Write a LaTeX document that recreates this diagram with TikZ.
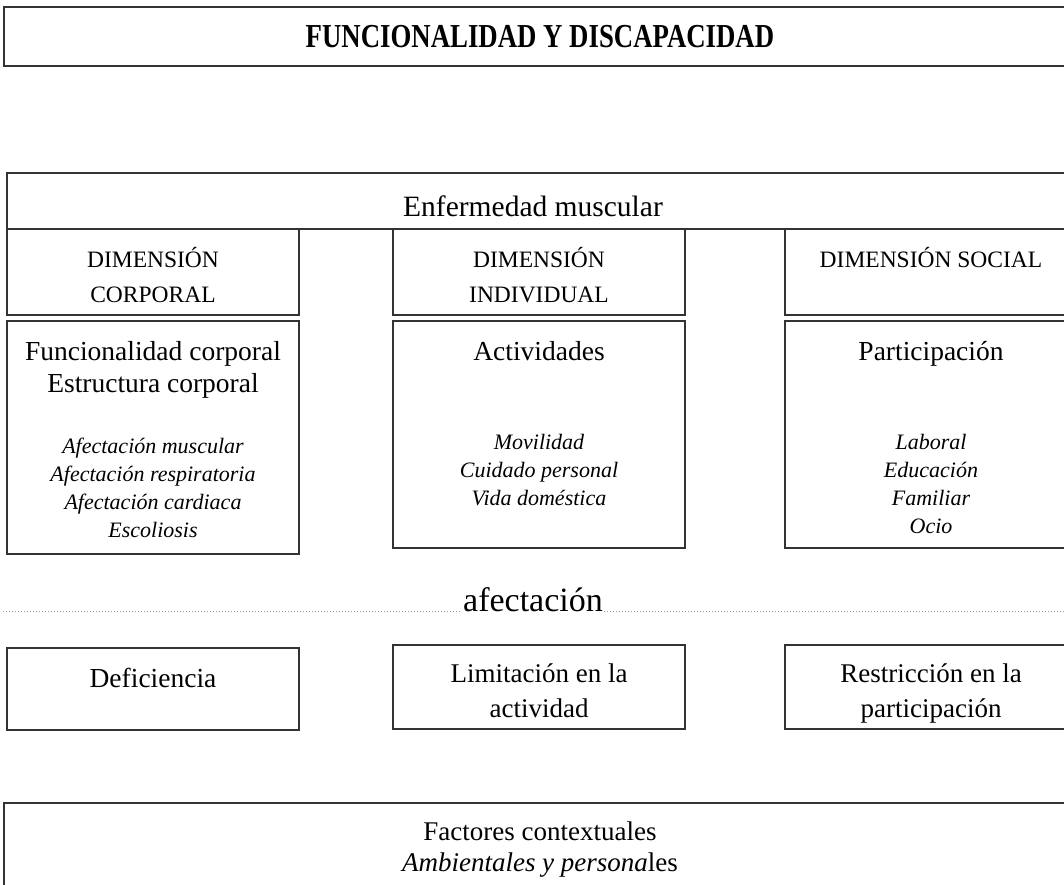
\documentclass[tikz,border=0pt]{standalone}
\usepackage{fontspec}
\setmainfont{Liberation Serif}
\usetikzlibrary{positioning}
\definecolor{borde}{HTML}{333333}
\definecolor{puntos}{HTML}{9a9a9a}

\begin{document}
\begin{tikzpicture}[x=1pt, y=-1pt]
        \tikzstyle{caja}=[rectangle, draw = borde, line width = 1.6pt, inner sep = 0pt]
        \tikzstyle{texto}=[align = center, inner sep = 0pt, font = \fontsize{27.5}{32}\selectfont]
        \tikzstyle{dim}=[align = center, inner sep = 0pt, font = \fontsize{23.5}{35}\selectfont]
        \tikzstyle{lista}=[align = center, inner sep = 0pt, font = \fontsize{22}{28}\selectfont\itshape]
        \useasboundingbox (0, 0) rectangle (1064, 884);
        \clip (0, 0) rectangle (1064, 884);
        % cabecera
        \node[caja, minimum width = 1073pt, minimum height = 59pt] (titulo) at (540.5, 36.5) {};
        \node[inner sep = 0pt, font = \fontsize{26.8}{30}\selectfont\bfseries] (tit) at (540, 37) {\scalebox{1}[1.25]{FUNCIONALIDAD Y DISCAPACIDAD}};
        \node[caja, minimum width = 1070pt, minimum height = 56pt] (enf) at (542, 201) {};
        \node[texto, font = \fontsize{29.5}{34}\selectfont] (enft) at (533, 206) {Enfermedad muscular};
        % dimensiones
        \node[caja, minimum width = 292pt, minimum height = 86pt] (dcorp) at (153, 272) {};
        \node[caja, minimum width = 292pt, minimum height = 86pt] (dind) at (539, 272) {};
        \node[caja, minimum width = 292pt, minimum height = 86pt] (dsoc) at (931, 272) {};
        \node[dim] (dcorpt) at (153, 275) {DIMENSIÓN\\CORPORAL};
        \node[dim] (dindt) at (539, 275) {DIMENSIÓN\\INDIVIDUAL};
        \node[dim] (dsoct) at (931, 258) {DIMENSIÓN SOCIAL};
        % contenidos
        \node[caja, minimum width = 292pt, minimum height = 233pt] (corp) at (153, 437.5) {};
        \node[caja, minimum width = 292pt, minimum height = 227pt] (act) at (539, 434.5) {};
        \node[caja, minimum width = 292pt, minimum height = 227pt] (part) at (931, 434.5) {};
        \node[texto] (corpt) at (153, 370) {Funcionalidad corporal\\Estructura corporal};
        \node[lista] (corpl) at (153, 488) {Afectación muscular\\Afectación respiratoria\\Afectación cardiaca\\Escoliosis};
        \node[texto] (actt) at (539, 351) {Actividades};
        \node[lista] (actl) at (539, 470) {Movilidad\\Cuidado personal\\Vida doméstica};
        \node[texto] (partt) at (931, 354) {Participación};
        \node[lista] (partl) at (931, 484) {Laboral\\Educación\\Familiar\\Ocio};
        % afectacion
        \coordinate (izq) at (3, 611);
        \coordinate (der) at (1064, 611);
        \node[anchor = base, inner sep = 1pt, font = \fontsize{34}{40}\selectfont] (afec) at (533, 611) {afectación};
        \draw[puntos, line width = 1pt, dotted] (izq) -- (afec.base west);
        \draw[puntos, line width = 1pt, dotted] (afec.base east) -- (der);
        % consecuencias
        \node[caja, minimum width = 292pt, minimum height = 82pt] (def) at (153, 689) {};
        \node[caja, minimum width = 292pt, minimum height = 84pt] (lim) at (539, 687) {};
        \node[caja, minimum width = 292pt, minimum height = 84pt] (res) at (931, 687) {};
        \node[texto] (deft) at (153, 678) {Deficiencia};
        \node[texto, font = \fontsize{27}{35}\selectfont] (limt) at (539, 691) {Limitación en la\\actividad};
        \node[texto, font = \fontsize{27}{35}\selectfont] (rest) at (931, 693) {Restricción en la\\participación};
        % contexto
        \node[caja, minimum width = 1073pt, minimum height = 100pt] (ctx) at (540.5, 853) {};
        \node[texto, font = \fontsize{27}{31}\selectfont] (ctxt) at (540, 850) {Factores contextuales\\\textit{Ambientales y persona}les};
\end{tikzpicture}
\end{document}
